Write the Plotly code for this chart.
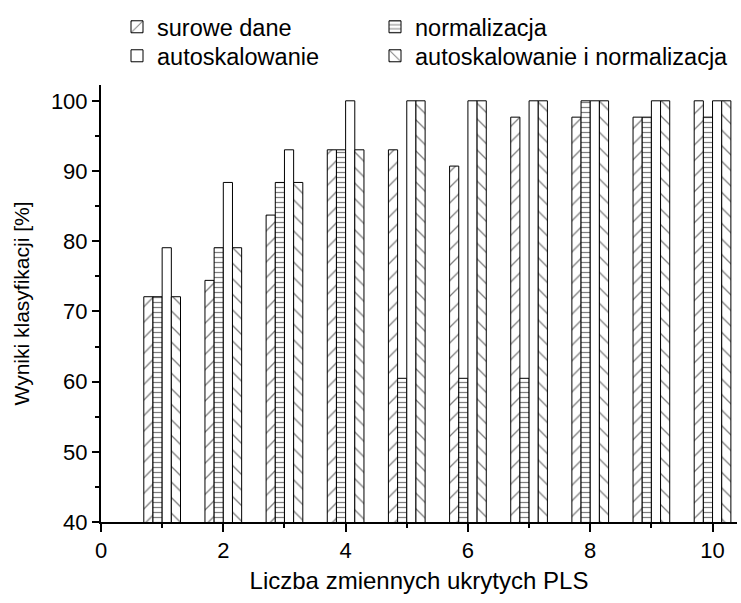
import plotly.graph_objects as go

x_vals = [1, 2, 3, 4, 5, 6, 7, 8, 9, 10]
surowe_dane = [72.09, 74.42, 83.72, 93.02, 93.02, 90.70, 97.67, 97.67, 97.67, 100.0]
normalizacja = [72.09, 79.07, 88.37, 93.02, 60.47, 60.47, 60.47, 100.0, 97.67, 97.67]
autoskalowanie = [79.07, 88.37, 93.02, 100.0, 100.0, 100.0, 100.0, 100.0, 100.0, 100.0]
auto_norm = [72.09, 79.07, 88.37, 93.02, 100.0, 100.0, 100.0, 100.0, 100.0, 100.0]

series_names = ["surowe dane", "normalizacja", "autoskalowanie",
                "autoskalowanie i normalizacja"]
x_ticks = [0, 2, 4, 6, 8, 10]

FONT = "Arial, Liberation Sans, sans-serif"

patterns = [
    dict(shape="/", size=11, solidity=0.12, fgcolor="black", bgcolor="white"),
    dict(shape="-", size=5, solidity=0.25, fgcolor="black", bgcolor="white"),
    dict(shape="", fgcolor="black", bgcolor="white"),
    dict(shape="\\", size=11, solidity=0.12, fgcolor="black", bgcolor="white"),
]
legend_ids = ["legend", "legend2", "legend3", "legend4"]
# legend entry placement (container px): (left, row centre)
legend_pos = [(117, 27), (375, 27), (117, 56), (375, 56)]

fig = go.Figure()
for name, vals, pat, lg in zip(series_names,
                               [surowe_dane, normalizacja, autoskalowanie, auto_norm],
                               patterns, legend_ids):
    fig.add_trace(go.Bar(
        x=x_vals, y=vals, name=name, legend=lg, showlegend=True,
        marker=dict(color="white", pattern=pat,
                    line=dict(color="black", width=1)),
    ))

W, H = 741, 603
legends = {}
for lg, (lx, ly) in zip(legend_ids, legend_pos):
    legends[lg] = dict(
        orientation="h", xref="container", yref="container",
        x=lx / W, y=1 - ly / H, xanchor="left", yanchor="middle",
        font=dict(family=FONT, size=23.5, color="black"),
        itemwidth=30, bgcolor="rgba(0,0,0,0)", visible=True,
    )

fig.update_layout(
    width=W, height=H,
    showlegend=True,
    margin=dict(l=101, r=4, t=85, b=81),
    plot_bgcolor="white", paper_bgcolor="white",
    barmode="group", bargap=0.4, bargroupgap=0.0,
    font=dict(family=FONT, size=22, color="black"),
    **legends,
    xaxis=dict(
        range=[0, 10.4], tickvals=x_ticks,
        ticks="outside", ticklen=8, tickwidth=1.5, tickcolor="black",
        minor=dict(dtick=1, tick0=0, ticks="outside", ticklen=4,
                   tickwidth=1.5, tickcolor="black"),
        showline=True, linecolor="black", linewidth=2,
        showgrid=False, zeroline=False,
        tickfont=dict(family=FONT, size=22),
        title=dict(text="Liczba zmiennych ukrytych PLS",
                   font=dict(family=FONT, size=24), standoff=10),
    ),
    yaxis=dict(
        range=[40, 102.25], tick0=40, dtick=10,
        ticks="outside", ticklen=7, tickwidth=1.5, tickcolor="black",
        minor=dict(dtick=5, tick0=40, ticks="outside", ticklen=4,
                   tickwidth=1.5, tickcolor="black"),
        showline=True, linecolor="black", linewidth=2,
        showgrid=False, zeroline=False,
        tickfont=dict(family=FONT, size=22),
        title=dict(text="Wyniki klasyfikacji [%]",
                   font=dict(family=FONT, size=21), standoff=16),
    ),
)

fig.write_html("out.html")
